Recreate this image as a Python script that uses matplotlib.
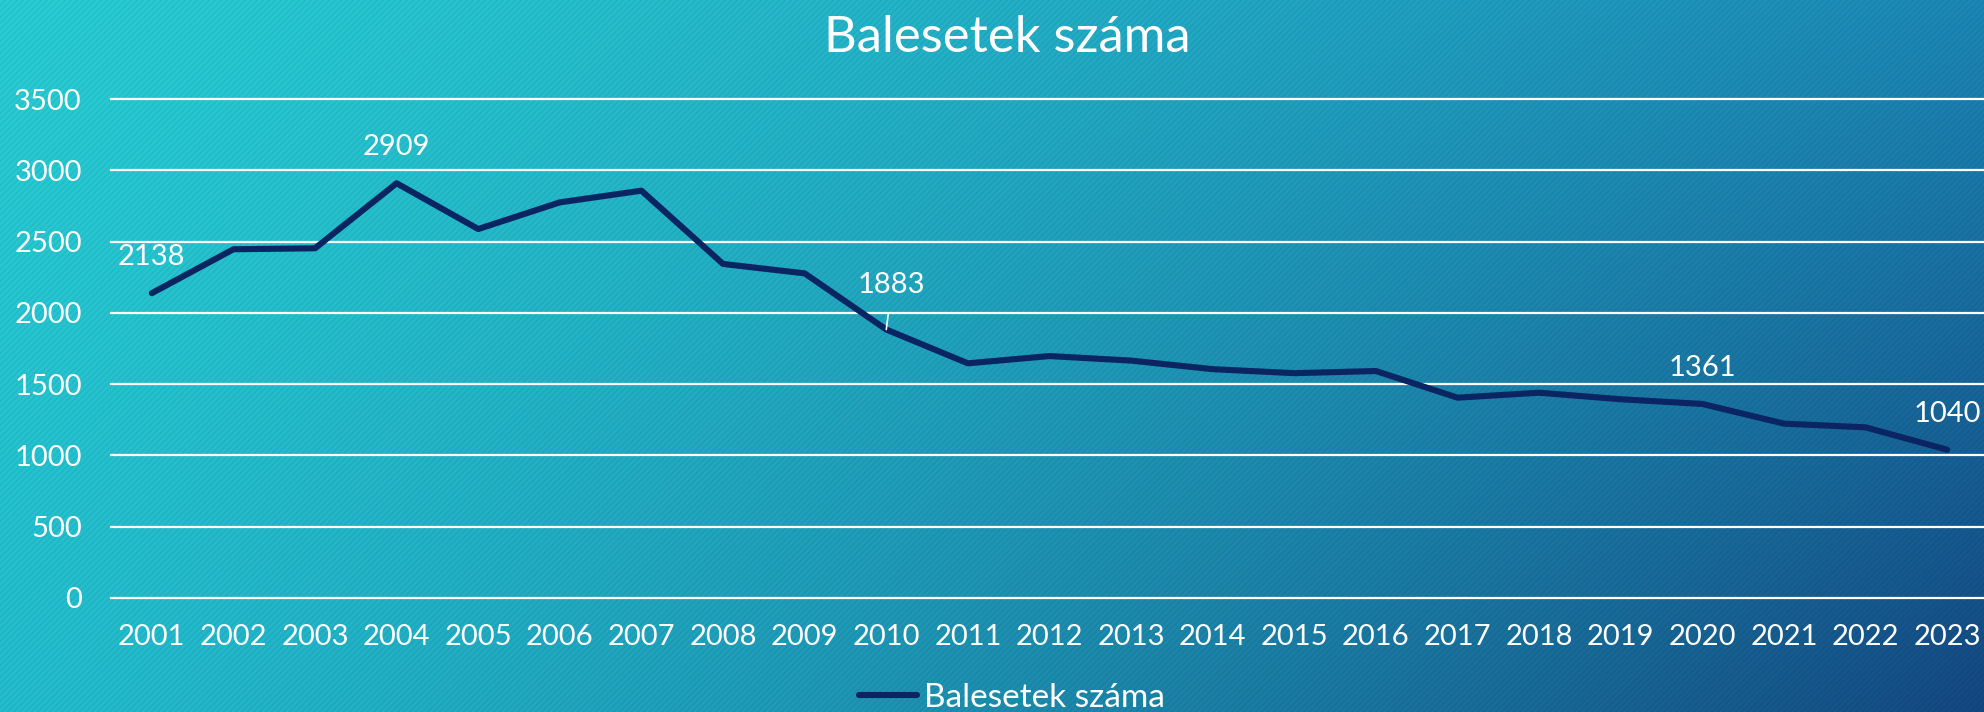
import matplotlib
matplotlib.use("Agg")
import matplotlib.pyplot as plt
import numpy as np

# data
years = [str(y) for y in range(2001, 2024)]
accidents = [2138, 2446, 2453, 2909, 2588, 2775, 2857, 2343, 2277, 1883,
             1646, 1697, 1665, 1605, 1577, 1592, 1405, 1440, 1394, 1361,
             1223, 1197, 1040]
labelled_years = ["2001", "2004", "2010", "2020", "2023"]
y_ticks = [0, 500, 1000, 1500, 2000, 2500, 3000, 3500]

series_name = "Balesetek száma"
title = "Balesetek száma"

plt.rcParams["font.family"] = ["Lato", "DejaVu Sans"]

W, H, DPI = 1984, 712, 100
fig = plt.figure(figsize=(W / DPI, H / DPI), dpi=DPI)

# background: diagonal gradient with fine stripes
bg = fig.add_axes([0, 0, 1, 1], zorder=0)
bg.set_axis_off()
yy, xx = np.mgrid[0:H, 0:W]
u = xx / (W - 1)
v = yy / (H - 1)
tl = np.array([0x27, 0xc9, 0xcf]) / 255
tr = np.array([0x1b, 0x84, 0xb2]) / 255
bl = np.array([0x22, 0xb9, 0xca]) / 255
br = np.array([0x13, 0x46, 0x7e]) / 255
uu = (u ** 1.3)[..., None]
vv = v[..., None]
img = (tl * (1 - uu) * (1 - vv) + tr * uu * (1 - vv)
       + bl * (1 - uu) * vv + br * uu * vv)
stripes = 1 + 0.035 * np.sin(2 * np.pi * (xx + yy) / 6.0)
img = np.clip(img * stripes[..., None], 0, 1)
bg.imshow(img, aspect="auto", interpolation="nearest")

ax = fig.add_axes([111 / W, 1 - 598 / H, (1988 - 111) / W, (598 - 99) / H],
                  zorder=1)
ax.patch.set_alpha(0)

x = np.arange(len(years))
ax.plot(x, accidents, color="#0b2462", lw=4.4, solid_joinstyle="round",
        solid_capstyle="round", label=series_name, zorder=3)

ax.set_xlim(-0.5, len(years) - 0.5)
ax.set_ylim(0, 3500)
ax.set_yticks(y_ticks)
ax.set_xticks(x)
ax.set_xticklabels(years)
ax.tick_params(axis="both", length=0, labelcolor="white", labelsize=21)
ax.tick_params(axis="y", pad=21)
ax.tick_params(axis="x", pad=19)
ax.yaxis.grid(True, color="white", lw=1.6)
for gl in ax.get_ygridlines():
    gl.set_clip_on(False)
ax.set_axisbelow(True)
for s in ax.spines.values():
    s.set_visible(False)

for yr in labelled_years:
    i = years.index(yr)
    val = accidents[i]
    if yr == "2010":
        ax.annotate(str(val), (i, val), xytext=(4, 32), textcoords="offset points",
                    ha="center", va="center", color="white", fontsize=21,
                    arrowprops=dict(arrowstyle="-", color="white", lw=1.2,
                                    shrinkA=9, shrinkB=0))
    else:
        ax.annotate(str(val), (i, val), xytext=(0, 26), textcoords="offset points",
                    ha="center", va="center", color="white", fontsize=21)

fig.text(1007 / W, 1 - 38 / H, title, ha="center", va="center",
         color="white", fontsize=36.5)

leg = fig.legend(loc="center", bbox_to_anchor=(1012 / W, 1 - 698 / H),
                 frameon=False, fontsize=24, handlelength=1.75,
                 handletextpad=0.2, labelcolor="white")

fig.savefig("out.png", dpi=DPI)
